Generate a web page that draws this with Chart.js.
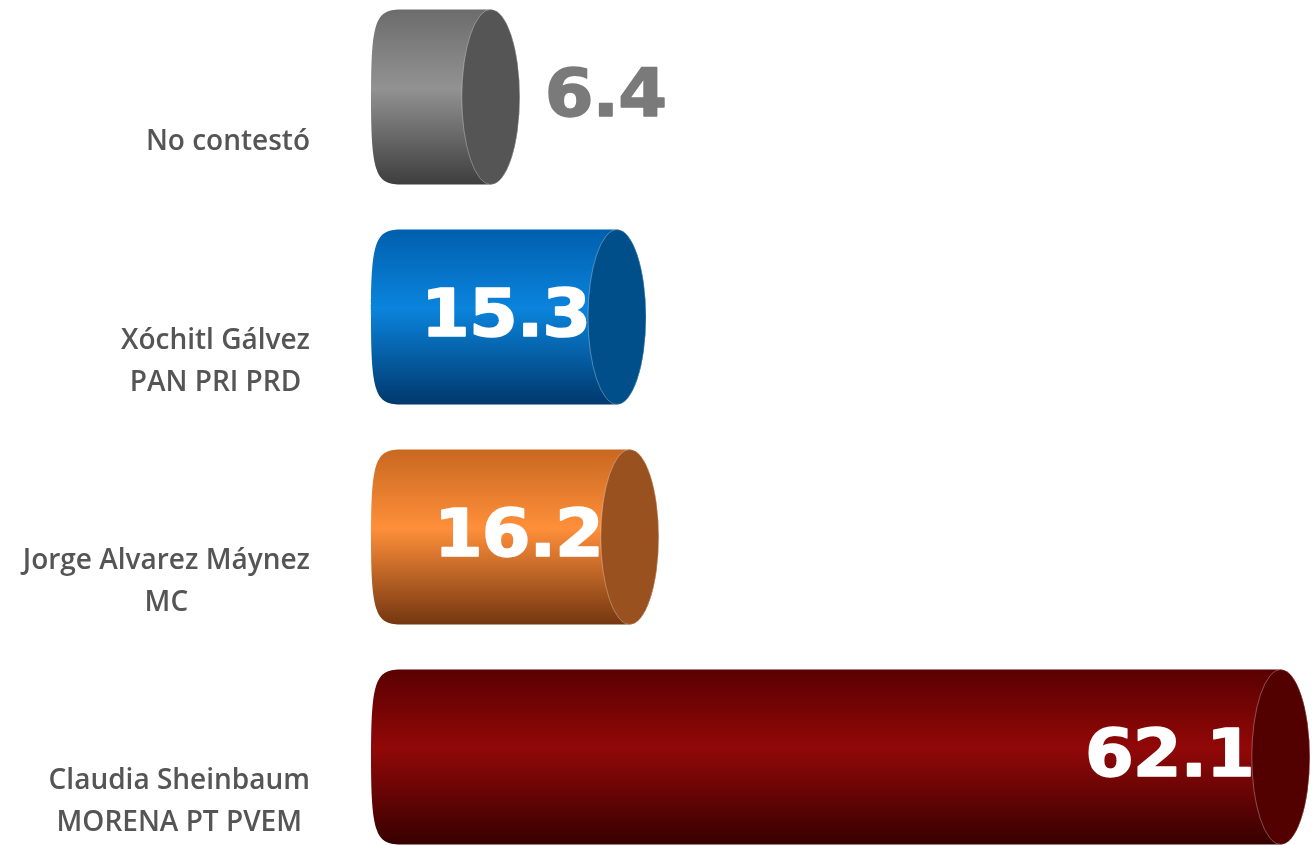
<!DOCTYPE html>
<html lang="es">
<head>
<meta charset="utf-8">
<script src="https://cdn.jsdelivr.net/npm/chart.js@4.4.1/dist/chart.umd.min.js"></script>
<style>
    html, body { margin: 0; padding: 0; background: #fff; overflow: hidden; }
    #wrap { position: absolute; left: 0; top: -13px; width: 1312px; height: 880px; }
</style>
</head>
<body>
<div id="wrap"><canvas id="grafico" width="1312" height="880"></canvas></div>
<script>
// Dados do gráfico
const categorias = [
    ['No contestó'],
    ['Xóchitl Gálvez', 'PAN PRI PRD'],
    ['Jorge Alvarez Máynez', 'MC'],
    ['Claudia Sheinbaum', 'MORENA PT PVEM']
];
const valores = [6.4, 15.3, 16.2, 62.1];

// Cores: [topo, meio, base]
const coresCorpo = [
    ['#6c6c6c', '#929292', '#3e3e3e'],
    ['#005fae', '#0a84dc', '#00386c'],
    ['#c86820', '#ff8f3a', '#743610'],
    ['#5a0000', '#920808', '#360000']
];
const coresTampa = ['#555555', '#004f8a', '#9a5120', '#520000'];

// Desenha cada barra como um cilindro
const cilindros = {
    id: 'cilindros',
    afterDatasetsDraw(chart) {
        const ctx = chart.ctx;
        const meta = chart.getDatasetMeta(0);
        meta.data.forEach((bar, i) => {
            const { x, y, base, height } = bar.getProps(['x', 'y', 'base', 'height'], true);
            const top = y - height / 2;
            const bottom = y + height / 2;
            const rx = 29;
            const ry = height / 2;
            const k = 0.85; // ponta esquerda mais "quadrada" que uma elipse

            // corpo
            const g = ctx.createLinearGradient(0, top, 0, bottom);
            g.addColorStop(0, coresCorpo[i][0]);
            g.addColorStop(0.45, coresCorpo[i][1]);
            g.addColorStop(1, coresCorpo[i][2]);
            ctx.save();
            ctx.beginPath();
            ctx.moveTo(base, top);
            ctx.lineTo(x, top);
            ctx.ellipse(x, y, rx, ry, 0, -Math.PI / 2, Math.PI / 2, false);
            ctx.lineTo(base, bottom);
            ctx.bezierCurveTo(base - rx * k, bottom, base - rx, y + ry * k, base - rx, y);
            ctx.bezierCurveTo(base - rx, y - ry * k, base - rx * k, top, base, top);
            ctx.closePath();
            ctx.fillStyle = g;
            ctx.fill();

            // tampa
            ctx.beginPath();
            ctx.ellipse(x, y, rx, ry, 0, 0, Math.PI * 2);
            ctx.fillStyle = coresTampa[i];
            ctx.fill();
            ctx.strokeStyle = 'rgba(255,255,255,0.3)';
            ctx.lineWidth = 1;
            ctx.stroke();
            ctx.restore();

            // valor
            ctx.save();
            ctx.font = 'bold 65px "DejaVu Sans"';
            ctx.letterSpacing = '-1px';
            ctx.textBaseline = 'middle';
            const texto = valores[i].toFixed(1);
            const dentro = valores[i] >= 10;
            const cor = dentro ? '#ffffff' : '#7a7a7a';
            const esc = 1.08;
            const w = ctx.measureText(texto).width * esc;
            const x0 = dentro ? x - 27 - w : x + 54;
            ctx.translate(x0, y + 2);
            ctx.scale(esc, 1);
            ctx.textAlign = 'left';
            ctx.fillStyle = cor;
            ctx.strokeStyle = cor;
            ctx.lineWidth = 1.5;
            ctx.lineJoin = 'round';
            ctx.strokeText(texto, 0, 0);
            ctx.fillText(texto, 0, 0);
            ctx.restore();
        });
    },
    // Rótulos das categorias (bloco alinhado à direita, linhas centradas)
    afterDraw(chart) {
        const ctx = chart.ctx;
        const yScale = chart.scales.y;
        ctx.save();
        ctx.font = '600 28px "Open Sans"';
        ctx.fillStyle = '#555555';
        ctx.textAlign = 'center';
        ctx.textBaseline = 'middle';
        categorias.forEach((linhas, i) => {
            const cy = yScale.getPixelForValue(i) + 45;
            const largura = Math.max(...linhas.map(l => ctx.measureText(l).width));
            const cx = 310 - largura / 2;
            const lh = 42;
            linhas.forEach((l, j) => {
                ctx.fillText(l, cx, cy + (j - (linhas.length - 1) / 2) * lh);
            });
        });
        ctx.restore();
    }
};

const ctx = document.getElementById('grafico').getContext('2d');
new Chart(ctx, {
    type: 'bar',
    data: {
        labels: categorias,
        datasets: [{
            data: valores,
            backgroundColor: 'rgba(0,0,0,0)',
            barPercentage: 0.795,
            categoryPercentage: 1
        }]
    },
    options: {
        indexAxis: 'y',
        responsive: false,
        animation: false,
        devicePixelRatio: 1,
        layout: { padding: { left: 400, right: 0, top: 0, bottom: 0 } },
        scales: {
            x: { display: false, min: 0, max: 64.3 },
            y: { display: false }
        },
        plugins: {
            legend: { display: false },
            tooltip: { enabled: false }
        }
    },
    plugins: [cilindros]
});
</script>
</body>
</html>
